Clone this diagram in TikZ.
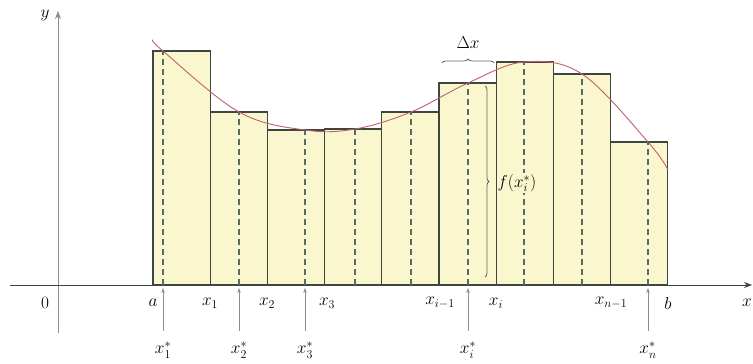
\documentclass[tikz,border=0pt]{standalone}
\usetikzlibrary{arrows.meta, decorations.pathreplacing}
\definecolor{BarFill}{HTML}{FAF7CF}
\definecolor{BarEdge}{HTML}{3F463F}
\definecolor{Dash}{HTML}{5A6A60}
\definecolor{CurveRed}{HTML}{C0606E}
\definecolor{AxisGray}{HTML}{8C8C8C}

\begin{document}
\begin{tikzpicture}[x=1pt, y=-1pt, font=\LARGE,
    bar/.style={fill=BarFill, draw=BarEdge, line width=1.1pt},
    sample/.style={draw=Dash, line width=1.1pt, dash pattern=on 6pt off 4pt},
    pick/.style={draw=AxisGray, line width=0.6pt, -{Stealth[length=5pt,width=3.5pt]}},
    axis/.style={line width=0.8pt, -{Stealth[length=8pt,width=6pt]}}]
\useasboundingbox (0,0) rectangle (753,364);

\coordinate (ystart) at (58,333);
\coordinate (yend) at (58,11);
\draw[axis, draw=AxisGray] (ystart) -- (yend);
\node (ylab) at (45,15) {$y$};
\node (origin) at (45,303) {$0$};

\foreach \k/\top/\xs in {0/51/163, 1/112/239, 2/130/305, 3/129/355, 4/112/411,
                          5/83/468, 6/62/524, 7/74/582, 8/142/648}{
  \pgfmathsetmacro\xl{153+57.2*\k}
  \draw[bar] (\xl,285) rectangle (\xl+57.2,\top);
}

\draw[CurveRed, line width=0.9pt] plot[smooth, tension=0.6] coordinates {
  (153,40) (163,51) (239,112) (305,130) (355,129) (411,112) (468,83)
  (524,62) (582,74) (648,142) (668,170)};

\foreach \k/\top/\xs in {0/51/163, 1/112/239, 2/130/305, 3/129/355, 4/112/411,
                          5/83/468, 6/62/524, 7/74/582, 8/142/648}{
  \coordinate (s\k) at (\xs,\top);
  \coordinate (b\k) at (\xs,285);
  \draw[sample] (b\k) -- (s\k);
}

\coordinate (xstart) at (10,285);
\coordinate (xend) at (752,285);
\draw[axis, draw=BarEdge] (xstart) -- (xend);
\node[anchor=east, inner sep=1pt] (xlab) at (753,303) {$x$};

\foreach \xp/\lab [count=\n] in {153/a, 210/x_1, 267/x_2, 327/x_3, 440/x_{i-1},
                                 496/x_i, 611/x_{n-1}, 668/b}
  \node (tick\n) at (\xp,303) {$\lab$};

\foreach \xs/\lab in {163/1, 239/2, 305/3, 468/i, 648/n}{
  \coordinate (t\lab) at (\xs,331);
  \coordinate (h\lab) at (\xs,288);
  \draw[pick] (t\lab) -- (h\lab);
  \node (star\lab) at (\xs,350) {$x_{\lab}^*$};
}

\coordinate (dxl) at (442,63);
\coordinate (dxr) at (494,63);
\draw[BarEdge!80, line width=0.8pt, decorate, decoration={brace, amplitude=4pt}] (dxl) -- (dxr);
\node (dx) at (468,43) {$\Delta x$};

\coordinate (ftop) at (485,86);
\coordinate (fbot) at (485,277);
\draw[Dash, line width=0.8pt, decorate, decoration={brace, amplitude=4pt}] (ftop) -- (fbot);
\node[fill=BarFill, inner sep=1pt] (fval) at (517,183) {$f(x_i^*)$};
\end{tikzpicture}
\end{document}
